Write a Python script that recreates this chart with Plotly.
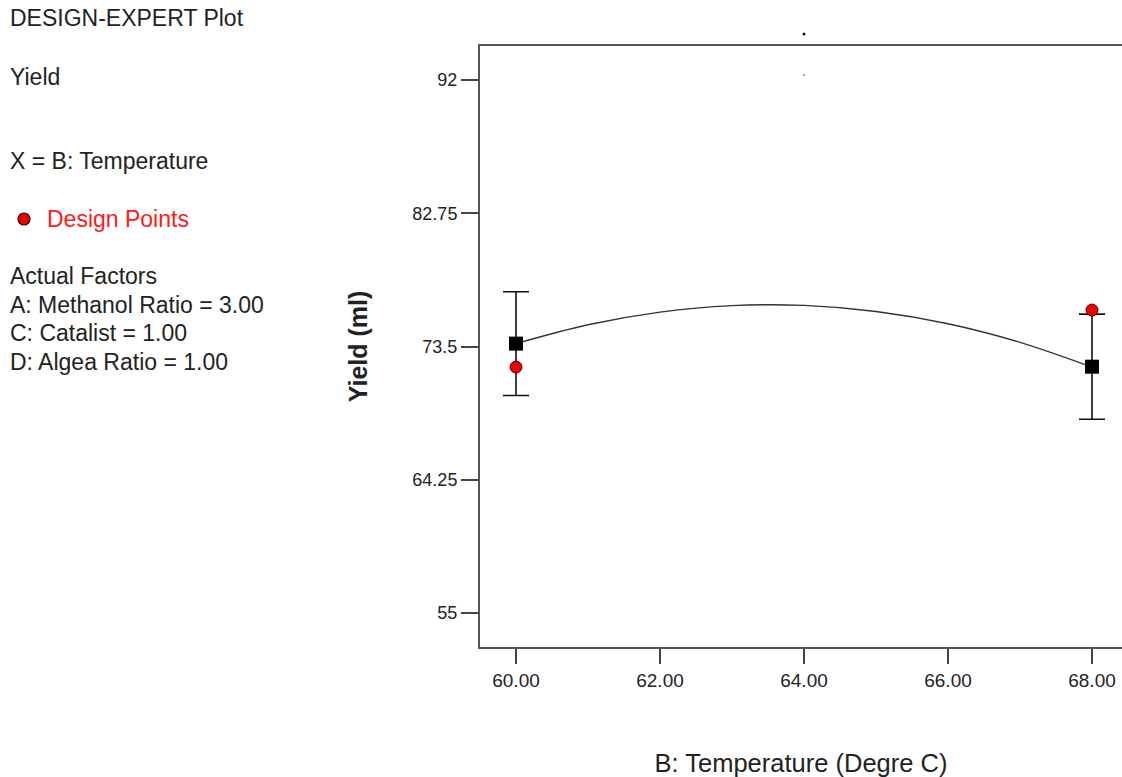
import plotly.graph_objects as go

# Response: Yield vs. B: Temperature (other factors held at actual values)
temperature = [60.0, 68.0]
predicted_yield = [73.7, 72.1]
ci_half_width = [3.6, 3.65]
design_yield = [72.07, 76.03]

# Fitted model curve across the temperature range
curve_temp = [60.0, 61.0, 62.0, 63.0, 64.0, 65.0, 66.0, 67.0, 68.0]
curve_yield = [73.7, 75.01, 75.89, 76.34, 76.35, 75.93, 75.08, 73.79, 72.07]

# Centre-point markers near the top of the frame
center_temp = [64.0]
center_design_yield = [92.35]
center_pred_yield = [95.2]

x_ticks = [60, 62, 64, 66, 68]
x_tick_labels = ["60.00", "62.00", "64.00", "66.00", "68.00"]
y_ticks = [55, 64.25, 73.5, 82.75, 92]
y_tick_labels = ["55", "64.25", "73.5", "82.75", "92"]

W, H = 1122, 777
L, T, R, B = 480, 46, 0, 130
PW, PH = W - L - R, H - T - B
Y_RANGE = [52.64, 94.36]
X_RANGE = [59.5, 59.5 + PW / 72.0]

FONT = "Liberation Sans, Arial, sans-serif"
INK = "#222222"


def px(x):
    return (x - L) / PW


def py(y):
    return (H - B - y) / PH


def data_to_paper_y(v):
    return (v - Y_RANGE[0]) / (Y_RANGE[1] - Y_RANGE[0])


fig = go.Figure()

fig.add_trace(go.Scatter(
    x=curve_temp, y=curve_yield, mode="lines",
    line=dict(color="#333333", width=1.3, shape="spline"),
    hoverinfo="skip", showlegend=False,
))

fig.add_trace(go.Scatter(
    x=temperature, y=predicted_yield, mode="markers",
    marker=dict(symbol="square", size=14, color="black"),
    error_y=dict(type="data", array=ci_half_width, color="#111111",
                 thickness=1.6, width=13),
    showlegend=False,
))

fig.add_trace(go.Scatter(
    x=temperature, y=design_yield, mode="markers",
    marker=dict(symbol="circle", size=12, color="#ee0000",
                line=dict(color="#550000", width=1)),
    showlegend=False,
))

fig.add_trace(go.Scatter(
    x=center_temp, y=center_design_yield, mode="markers",
    marker=dict(symbol="circle", size=2.5, color="#ff9a80"),
    showlegend=False,
))

# Centre prediction sits above the axis range, so it is drawn as a small
# paper-referenced dot placed from its data value
for xt, yv in zip(center_temp, center_pred_yield):
    yp = data_to_paper_y(yv)
    dy = 1.5 / PH
    fig.add_shape(
        type="circle", xref="x", yref="paper",
        x0=xt - 1.5 / 72.0, x1=xt + 1.5 / 72.0, y0=yp - dy, y1=yp + dy,
        fillcolor="#111111", line=dict(width=0),
    )

# Legend / factor text block on the left
side_text = [
    ("DESIGN-EXPERT Plot", 18, INK),
    ("Yield", 77, INK),
    ("X = B: Temperature", 161, INK),
    ("Design Points", 219, "#ff1a1a"),
    ("Actual Factors", 276, INK),
    ("A: Methanol Ratio = 3.00", 305, INK),
    ("C: Catalist = 1.00", 333, INK),
    ("D: Algea Ratio = 1.00", 362, INK),
]
for txt, ypos, col in side_text:
    xpos = 45 if txt == "Design Points" else 8
    fig.add_annotation(
        text=txt, xref="paper", yref="paper", x=px(xpos), y=py(ypos),
        xanchor="left", yanchor="middle", showarrow=False,
        font=dict(family=FONT, size=23, color=col),
    )

fig.add_shape(
    type="circle", xref="paper", yref="paper",
    x0=px(18), x1=px(30), y0=py(225), y1=py(213),
    fillcolor="#ee0000", line=dict(color="#330000", width=1.2),
)

fig.update_layout(
    width=W, height=H,
    margin=dict(l=L, r=R, t=T, b=B),
    paper_bgcolor="white", plot_bgcolor="white",
    font=dict(family=FONT, color=INK),
    xaxis=dict(
        range=X_RANGE,
        tickvals=x_ticks, ticktext=x_tick_labels,
        ticks="outside", ticklen=15, tickwidth=1.5, tickcolor="#444444",
        tickfont=dict(size=19, family=FONT, color=INK),
        showline=True, linecolor="#555555", linewidth=2, mirror=True,
        showgrid=False, zeroline=False,
        title=dict(text="B: Temperature (Degre C)", standoff=66,
                   font=dict(size=25.5, family=FONT, color=INK)),
    ),
    yaxis=dict(
        range=Y_RANGE,
        tickvals=y_ticks, ticktext=y_tick_labels,
        ticks="outside", ticklen=17, tickwidth=1.5, tickcolor="#444444",
        tickfont=dict(size=18, family=FONT, color=INK),
        showline=True, linecolor="#555555", linewidth=2,
        showgrid=False, zeroline=False,
        title=dict(text="<b>Yield (ml)</b>", standoff=38,
                   font=dict(size=25, family=FONT, color=INK)),
    ),
)

fig.write_html("out.html")
